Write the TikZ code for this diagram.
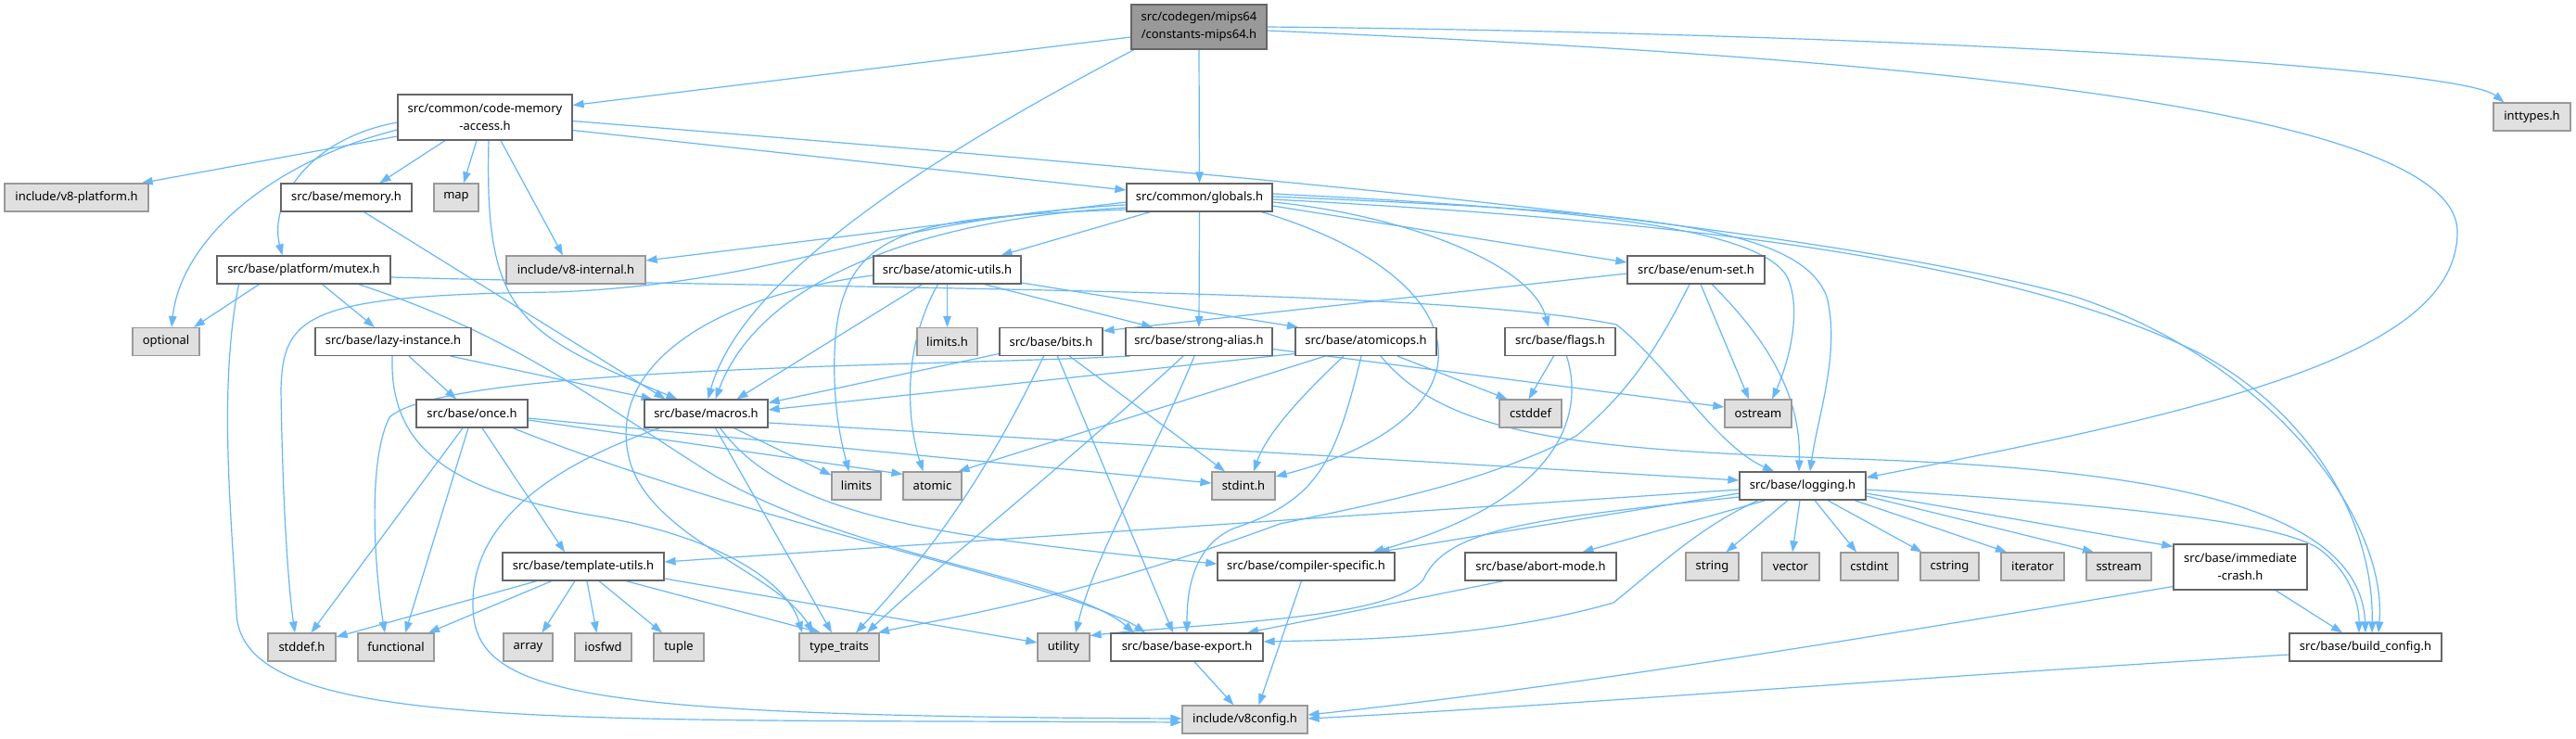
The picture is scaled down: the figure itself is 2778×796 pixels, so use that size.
\documentclass[tikz,border=0pt]{standalone}
\usepackage{fontspec}
\setmainfont{Noto Sans}
\usetikzlibrary{arrows.meta}
\pgfdeclarelayer{bg}
\pgfsetlayers{bg,main}
\definecolor{edgec}{HTML}{63B8FF}
\definecolor{bordA}{HTML}{666666}
\definecolor{bordB}{HTML}{999999}
\definecolor{fillsys}{HTML}{E0E0E0}
\definecolor{filltop}{HTML}{999999}
\tikzset{
  nd/.style={draw=bordA, fill=white, line width=1.2pt, inner sep=0pt, minimum height=30,
    font=\fontsize{13}{19}\selectfont, text=black, align=center},
  sys/.style={nd, draw=bordB, fill=fillsys},
  topnd/.style={nd, draw=bordA, fill=filltop},
  ln/.style={draw=edgec, line width=1.2pt, -{Triangle[length=12pt,width=8.5pt]}},
}
\begin{document}
\begin{tikzpicture}[x=1pt,y=-1pt]
\useasboundingbox (0,0) rectangle (2778,796);
% nodes
\node[topnd, minimum width=146, minimum height=48] (C) at (1293,29) {src/codegen/mips64\\/constants-mips64.h};
\node[nd, minimum width=188, minimum height=49] (cma) at (523,126.5) {src/common/code-memory\\-access.h};
\node[sys, minimum width=83] (inttypes) at (2730.5,126) {inttypes.h};
\node[sys, minimum width=155] (v8platform) at (82.5,213) {include/v8-platform.h};
\node[nd, minimum width=141] (memory) at (373.5,213) {src/base/memory.h};
\node[sys, minimum width=48] (map) at (492,213) {map};
\node[nd, minimum width=157] (globals) at (1293.5,213) {src/common/globals.h};
\node[nd, minimum width=187] (mutex) at (327.5,291) {src/base/platform/mutex.h};
\node[sys, minimum width=150] (v8internal) at (621,291) {include/v8-internal.h};
\node[nd, minimum width=159] (atomicutils) at (1021.5,291) {src/base/atomic-utils.h};
\node[nd, minimum width=148] (enumset) at (1829,291) {src/base/enum-set.h};
\node[sys, minimum width=72] (optional) at (179,368.5) {optional};
\node[nd, minimum width=168] (lazy) at (424,368.5) {src/base/lazy-instance.h};
\node[sys, minimum width=65] (limitsh) at (1021.5,368.5) {limits.h};
\node[nd, minimum width=111] (bits) at (1133.5,368.5) {src/base/bits.h};
\node[nd, minimum width=158] (strongalias) at (1293,368.5) {src/base/strong-alias.h};
\node[nd, minimum width=152] (atomicops) at (1473,368.5) {src/base/atomicops.h};
\node[nd, minimum width=119] (flags) at (1682.5,368.5) {src/base/flags.h};
\node[nd, minimum width=120] (once) at (509,446) {src/base/once.h};
\node[nd, minimum width=133] (macros) at (761.5,446) {src/base/macros.h};
\node[sys, minimum width=67] (cstddef) at (1650.5,446) {cstddef};
\node[sys, minimum width=72] (ostream) at (1896,446) {ostream};
\node[sys, minimum width=53] (limits) at (923.5,524) {limits};
\node[sys, minimum width=63] (atomic) at (1005.5,524) {atomic};
\node[sys, minimum width=68] (stdinth) at (1341,524) {stdint.h};
\node[nd, minimum width=136] (logging) at (1944,524) {src/base/logging.h};
\node[nd, minimum width=174] (templateutils) at (629,611) {src/base/template-utils.h};
\node[nd, minimum width=191] (compilerspecific) at (1408.5,611) {src/base/compiler-specific.h};
\node[nd, minimum width=163] (abortmode) at (1661.5,611) {src/base/abort-mode.h};
\node[sys, minimum width=57] (string) at (1846.5,611) {string};
\node[sys, minimum width=62] (vector) at (1931,611) {vector};
\node[sys, minimum width=62] (cstdint) at (2016,611) {cstdint};
\node[sys, minimum width=63] (cstring) at (2102.5,611) {cstring};
\node[sys, minimum width=68] (iterator) at (2192,611) {iterator};
\node[sys, minimum width=70] (sstream) at (2285,611) {sstream};
\node[nd, minimum width=144, minimum height=49] (immediatecrash) at (2416,611.5) {src/base/immediate\\-crash.h};
\node[sys, minimum width=73] (stddefh) at (325.5,698) {stddef.h};
\node[sys, minimum width=82] (functional) at (427,698) {functional};
\node[sys, minimum width=53] (array) at (569.5,698) {array};
\node[sys, minimum width=61] (iosfwd) at (650.5,698) {iosfwd};
\node[sys, minimum width=54] (tuple) at (732,698) {tuple};
\node[sys, minimum width=86] (typetraits) at (905,698) {type\_traits};
\node[sys, minimum width=56] (utility) at (1147,698) {utility};
\node[nd, minimum width=164] (baseexport) at (1280,698) {src/base/base-export.h};
\node[nd, minimum width=164] (buildconfig) at (2551,698) {src/base/build\_config.h};
\node[sys, minimum width=135] (v8config) at (1342.5,776) {include/v8config.h};

\begin{pgfonlayer}{bg}
\fill[white] (0,0) rectangle (2778,796);
% constants
\draw[ln] ([yshift=-11]C.west) -- ([yshift=13]cma.east);
\draw[ln] (C.south) -- (globals.north);
\draw[ln] ([xshift=-70]C.south) .. controls (1000,170) and (800,300) .. ([xshift=2]macros.north);
\draw[ln] (C.east) .. controls (2000,35) and (2650,70) .. ([xshift=-30]inttypes.north);
\draw[ln] ([yshift=-4]C.east) .. controls (2000,60) and (2650,110) .. (2650,250) .. controls (2650,380) and (2400,440) .. ([yshift=9]logging.east);
% code-memory-access
\draw[ln] ([yshift=-20.5]cma.west) -- ([xshift=-8]v8platform.north east);
\draw[ln] ([xshift=-43]cma.south) -- ([xshift=36]memory.north);
\draw[ln] ([xshift=-9]cma.south) -- ([xshift=8]map.north);
\draw[ln] ([xshift=17]cma.south) -- ([xshift=-14]v8internal.north);
\draw[ln] ([yshift=-5.5]cma.west) .. controls (330,150) and (290,220) .. ([xshift=-23]mutex.north);
\draw[ln] ([yshift=-13.5]cma.west) .. controls (290,175) and (195,260) .. ([xshift=6]optional.north);
\draw[ln] ([xshift=4]cma.south) .. controls (522,340) and (560,360) .. ([xshift=-31]macros.north);
\draw[ln] ([yshift=-14]cma.east) -- ([yshift=8]globals.west);
\draw[ln] ([yshift=-4]cma.east) .. controls (1300,185) and (1950,240) .. (2238,320) .. controls (2450,390) and (2575,560) .. ([xshift=14]buildconfig.north);
% memory
\draw[ln] ([xshift=19]memory.south) -- ([xshift=-44]macros.north);
% globals
\draw[ln] ([yshift=-5]globals.west) -- ([yshift=10]v8internal.east);
\draw[ln] ([yshift=-8]globals.west) .. controls (950,235) and (850,305) .. (600,315) .. controls (330,318) and (305,340) .. (303,420) .. controls (305,560) and (312,640) .. ([xshift=-7.5]stddefh.north);
\draw[ln] ([yshift=-11]globals.west) .. controls (1000,235) and (820,300) .. ([xshift=10]macros.north);
\draw[ln] ([yshift=-13]globals.west) .. controls (980,235) and (905,245) .. (900,380) .. controls (898,440) and (908,480) .. ([xshift=-8]limits.north);
\draw[ln] ([xshift=-53]globals.south) -- ([xshift=58]atomicutils.north);
\draw[ln] (globals.south) -- (strongalias.north);
\draw[ln] ([yshift=-9]globals.east) -- ([yshift=8]enumset.west);
\draw[ln] ([yshift=-5]globals.east) .. controls (1500,230) and (1650,280) .. ([xshift=-12.5]flags.north);
\draw[ln] ([xshift=67]globals.south) .. controls (1600,300) and (1620,450) .. ([yshift=10]stdinth.east);
\draw[ln] ([yshift=4]globals.east) .. controls (1700,225) and (1900,245) .. (1928,300) .. controls (1945,340) and (1925,400) .. ([xshift=15]ostream.north);
\draw[ln] ([yshift=1]globals.east) .. controls (1750,228) and (1940,240) .. (1970,320) .. controls (1985,380) and (1960,450) .. ([xshift=8]logging.north);
\draw[ln] ([yshift=-2]globals.east) .. controls (1750,235) and (2150,270) .. (2372,381) .. controls (2500,450) and (2560,570) .. ([xshift=7]buildconfig.north);
% mutex
\draw[ln] ([xshift=-48]mutex.south) -- ([xshift=30]optional.north);
\draw[ln] ([xshift=20]mutex.south) -- ([xshift=-20]lazy.north);
\draw[ln] ([xshift=-70]mutex.south) .. controls (235,420) and (250,560) .. (255,660) .. controls (258,790) and (600,775) .. ([yshift=-3]v8config.west);
\draw[ln] ([yshift=-8]mutex.east) .. controls (900,312) and (1550,310) .. (1743,350) .. controls (1800,395) and (1850,480) .. ([xshift=-31]logging.north);
\draw[ln] ([xshift=59]mutex.south) .. controls (550,360) and (640,430) .. (750,500) .. controls (900,600) and (1150,620) .. ([xshift=-57]baseexport.north);
% atomic-utils
\draw[ln] ([xshift=-27]atomicutils.south) -- ([xshift=33]macros.north);
\draw[ln] ([yshift=-6]atomicutils.west) .. controls (760,320) and (650,400) .. (680,500) .. controls (705,580) and (840,620) .. ([xshift=-28]typetraits.north);
\draw[ln] ([xshift=-10]atomicutils.south) .. controls (970,380) and (980,460) .. ([xshift=-10]atomic.north);
\draw[ln] (atomicutils.south) -- (limitsh.north);
\draw[ln] ([xshift=40]atomicutils.south) -- ([xshift=-50]strongalias.north);
\draw[ln] ([yshift=-14]atomicutils.east) -- ([xshift=-73]atomicops.north);
% enum-set
\draw[ln] ([yshift=-4]enumset.west) -- ([yshift=-4]bits.north east);
\draw[ln] ([xshift=-7]enumset.south) .. controls (1790,370) and (1760,420) .. (1700,470) .. controls (1600,520) and (1500,540) .. (1380,565) .. controls (1150,650) and (1000,670) .. ([xshift=42]typetraits.north);
\draw[ln] ([xshift=5]enumset.south) -- ([xshift=-10]ostream.north);
\draw[ln] ([xshift=17]enumset.south) .. controls (1920,380) and (1942,440) .. ([xshift=-4]logging.north);
% lazy-instance
\draw[ln] ([xshift=17]lazy.south) -- ([xshift=-17]once.north);
\draw[ln] ([xshift=62]lazy.south) -- ([xshift=-58]macros.north);
\draw[ln] ([xshift=-1]lazy.south) .. controls (420,480) and (480,530) .. (646,557) .. controls (780,580) and (850,630) .. ([xshift=-40]typetraits.north);
% bits
\draw[ln] ([yshift=-13]bits.west) -- ([yshift=-4]macros.north east);
\draw[ln] ([xshift=-8]bits.south) .. controls (1060,520) and (1000,600) .. ([xshift=18]typetraits.north);
\draw[ln] ([xshift=7]bits.south) -- ([xshift=-15]baseexport.north);
\draw[ln] ([xshift=20]bits.south) -- ([xshift=-20]stdinth.north);
% strong-alias
\draw[ln] ([xshift=5]strongalias.south west) .. controls (1000,395) and (480,395) .. (420,450) .. controls (395,500) and (405,620) .. ([xshift=-12]functional.north);
\draw[ln] ([xshift=-17]strongalias.south) .. controls (1150,500) and (1000,620) .. ([xshift=30]typetraits.north);
\draw[ln] ([xshift=-5]strongalias.south) .. controls (1240,500) and (1180,600) .. ([xshift=13]utility.north);
\draw[ln] ([yshift=-8]strongalias.east) -- ([yshift=7]ostream.west);
% atomicops
\draw[ln] ([yshift=-13]atomicops.west) -- ([yshift=4]macros.east);
\draw[ln] ([xshift=-44]atomicops.south) -- ([xshift=28]atomic.north);
\draw[ln] ([xshift=-24]atomicops.south) .. controls (1400,430) and (1365,470) .. ([xshift=11]stdinth.north);
\draw[ln] ([xshift=-5]atomicops.south) .. controls (1440,500) and (1420,540) .. (1330,570) .. controls (1285,590) and (1280,640) .. (baseexport.north);
\draw[ln] ([xshift=16]atomicops.south) .. controls (1560,470) and (1700,485) .. (2000,495) .. controls (2300,505) and (2545,540) .. (buildconfig.north);
\draw[ln] ([xshift=34]atomicops.south) -- ([xshift=-25]cstddef.north);
% flags
\draw[ln] ([xshift=-7]flags.south) -- ([xshift=-2]cstddef.north);
\draw[ln] ([xshift=7]flags.south) .. controls (1710,450) and (1680,540) .. ([xshift=72]compilerspecific.north);
% once
\draw[ln] ([xshift=-10]once.south) -- ([xshift=10]stddefh.north);
\draw[ln] ([xshift=-4]once.south) -- ([xshift=10]functional.north);
\draw[ln] ([xshift=11]once.south) -- ([xshift=-20]templateutils.north);
\draw[ln] ([xshift=44]once.south) .. controls (750,540) and (1000,600) .. (1100,630) .. controls (1170,650) and (1215,668) .. ([xshift=-45]baseexport.north);
\draw[ln] ([yshift=-7]once.east) -- ([yshift=-3]atomic.north west);
\draw[ln] ([yshift=-5]once.east) -- ([yshift=3]stdinth.west);
% macros
\draw[ln] ([xshift=30]macros.south) -- ([yshift=-4]limits.north west);
\draw[ln] ([xshift=10]macros.south) -- ([xshift=-8]typetraits.north);
\draw[ln] ([xshift=15]macros.south) .. controls (820,520) and (900,560) .. (1100,585) .. controls (1200,598) and (1280,605) .. ([yshift=3]compilerspecific.west);
\draw[ln] ([yshift=-10]macros.east) -- ([yshift=6]logging.west);
\draw[ln] ([xshift=-50]macros.south) .. controls (600,500) and (510,560) .. (510,650) .. controls (508,750) and (620,772) .. ([yshift=1]v8config.west);
% logging
\draw[ln] ([yshift=-4]logging.west) -- ([yshift=5]templateutils.east);
\draw[ln] ([yshift=-8]logging.west) -- ([xshift=78]compilerspecific.north);
\draw[ln] ([yshift=-12]logging.west) .. controls (1650,560) and (1560,570) .. (1535,625) .. controls (1500,668) and (1300,672) .. ([yshift=-3]utility.north east);
\draw[ln] ([xshift=-48]logging.south) .. controls (1830,570) and (1790,610) .. (1740,650) .. controls (1600,690) and (1450,690) .. ([yshift=6]baseexport.east);
\draw[ln] ([xshift=-40]logging.south) -- ([xshift=45]abortmode.north);
\draw[ln] ([xshift=-16]logging.south) -- ([xshift=15]string.north);
\draw[ln] ([xshift=-3]logging.south) -- ([xshift=2]vector.north);
\draw[ln] ([xshift=13]logging.south) -- ([xshift=-14]cstdint.north);
\draw[ln] ([xshift=27]logging.south) -- ([xshift=-30]cstring.north);
\draw[ln] ([xshift=56]logging.south) -- ([xshift=-28]iterator.north);
\draw[ln] ([yshift=-11]logging.east) -- ([xshift=-27]sstream.north);
\draw[ln] ([yshift=-8]logging.east) -- ([yshift=-3]immediatecrash.north west);
\draw[ln] ([yshift=-4]logging.east) .. controls (2300,545) and (2470,565) .. (2505,595) .. controls (2535,620) and (2544,650) .. ([xshift=-7]buildconfig.north);
% template-utils
\draw[ln] ([xshift=-50]templateutils.south) -- ([yshift=11]stddefh.east);
\draw[ln] ([xshift=-34]templateutils.south) -- ([xshift=35]functional.north);
\draw[ln] ([xshift=-9]templateutils.south) -- ([xshift=15]array.north);
\draw[ln] ([xshift=4]templateutils.south) -- ([xshift=-7]iosfwd.north);
\draw[ln] ([xshift=17]templateutils.south) -- ([xshift=-18]tuple.north);
\draw[ln] ([xshift=46]templateutils.south) -- ([xshift=-20]typetraits.north);
\draw[ln] ([yshift=-13]templateutils.east) -- ([yshift=5]utility.west);
% lower
\draw[ln] ([xshift=-5]compilerspecific.south) -- ([xshift=15]v8config.north);
\draw[ln] ([xshift=-40]abortmode.south) -- ([xshift=65]baseexport.north);
\draw[ln] ([xshift=8]baseexport.south) -- ([xshift=-12]v8config.north);
\draw[ln] ([xshift=38]immediatecrash.south) -- ([xshift=-25]buildconfig.north);
\draw[ln] ([yshift=-21]immediatecrash.west) .. controls (2000,690) and (1700,740) .. ([yshift=5]v8config.east);
\draw[ln] ([yshift=-8]buildconfig.west) .. controls (2000,735) and (1700,760) .. ([yshift=1]v8config.east);
\end{pgfonlayer}
\end{tikzpicture}
\end{document}
